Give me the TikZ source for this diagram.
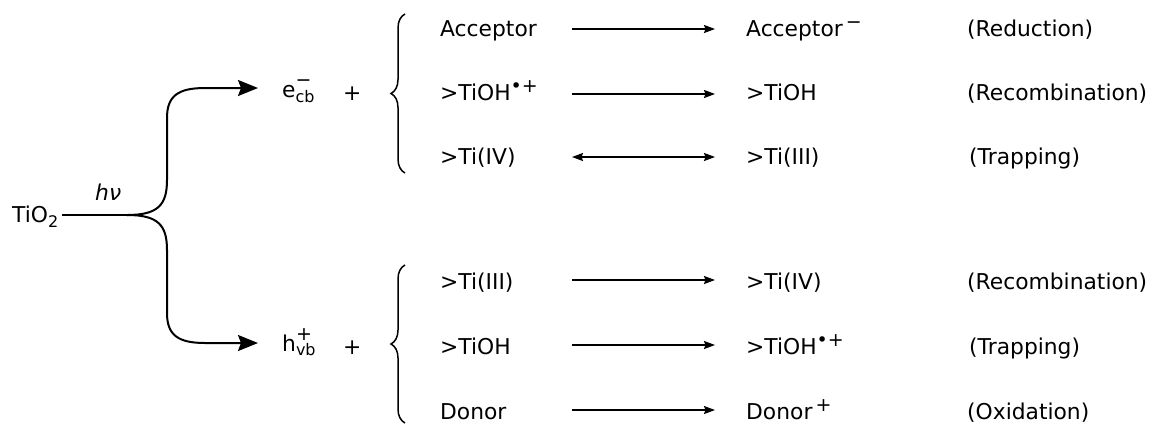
\documentclass[tikz,border=0pt]{standalone}
\usepackage{fontspec}
\setmainfont{DejaVu Sans}
\usetikzlibrary{arrows.meta,decorations.pathreplacing}
\newcommand\supsz{\fontsize{16}{16}\selectfont}
\newcommand\chgsz{\fontsize{19}{19}\selectfont}
\newcommand\sups[1]{\raisebox{8pt}{\chgsz #1}}
\begin{document}
\begin{tikzpicture}[x=1pt,y=-1pt,
  font=\fontsize{21.8}{24}\selectfont,
  txt/.style={anchor=base west, inner sep=0pt},
  branch/.style={line width=2pt, -{Stealth[length=20pt,width=16pt,inset=3pt]}},
  react/.style={line width=1.6pt, -{Stealth[length=11pt,width=8pt,inset=1.5pt]}},
  rev/.style={line width=1.6pt, {Stealth[length=11pt,width=8pt,inset=1.5pt]}-{Stealth[length=11pt,width=8pt,inset=1.5pt]}},
  bracebox/.style={line width=1.5pt, decorate, decoration={brace, amplitude=14pt}}]
\useasboundingbox (0,0) rectangle (1159,424);
% left part
\node[txt] (tio) at (12,222) {TiO\raisebox{-5pt}{\supsz 2}};
\node[txt] (hv) at (95,200) {\textit{hν}};
\node[txt] (e) at (282,97) {e\rlap{\raisebox{11pt}{\chgsz −}}\raisebox{-5pt}{\supsz cb}};
\node[txt] (h) at (282,351) {h\rlap{\raisebox{11pt}{\chgsz +}}\raisebox{-4pt}{\supsz vb}};
\node[txt] (pe) at (343,100) {+};
\node[txt] (ph) at (343,354) {+};
\coordinate (j) at (127,215);
\coordinate (et) at (258,88);
\coordinate (ht) at (258,343);
\draw[line width=2pt] (tio.east |- j) ++(4,0) -- (j);
\draw[branch] (j) .. controls (158,215) and (167,205) .. (167,180) -- (167,118)
  .. controls (167,96) and (178,88) .. (205,88) -- (et);
\draw[branch] (j) .. controls (158,215) and (167,225) .. (167,250) -- (167,313)
  .. controls (167,335) and (178,343) .. (205,343) -- (ht);
% braces
\draw[bracebox] (405,173) -- (405,14);
\draw[bracebox] (405,423) -- (405,265);
% column 1
\node[txt] (a1) at (440,36) {Acceptor};
\node[txt] (a2) at (440,100) {>TiOH\sups{•+}};
\node[txt] (a3) at (440,164) {>Ti(IV)};
\node[txt] (a4) at (440,289) {>Ti(III)};
\node[txt] (a5) at (440,354) {>TiOH};
\node[txt] (a6) at (440,419) {Donor};
% column 2
\node[txt] (b1) at (746,36) {Acceptor\sups{\,−}};
\node[txt] (b2) at (746,100) {>TiOH};
\node[txt] (b3) at (746,164) {>Ti(III)};
\node[txt] (b4) at (746,289) {>Ti(IV)};
\node[txt] (b5) at (746,354) {>TiOH\sups{•+}};
\node[txt] (b6) at (746,419) {Donor\sups{\,+}};
% column 3
\node[txt] (c1) at (967,36) {(Reduction)};
\node[txt] (c2) at (967,100) {(Recombination)};
\node[txt] (c3) at (969,164) {(Trapping)};
\node[txt] (c4) at (967,289) {(Recombination)};
\node[txt] (c5) at (969,354) {(Trapping)};
\node[txt] (c6) at (967,419) {(Oxidation)};
% reaction arrows
\foreach \i/\y in {1/29,2/94,3/157,4/280,5/345,6/410}{
  \coordinate (s\i) at (572,\y);
  \coordinate (t\i) at (715,\y);
}
\draw[react] (s1) -- (t1);
\draw[react] (s2) -- (t2);
\draw[rev] (s3) -- (t3);
\draw[react] (s4) -- (t4);
\draw[react] (s5) -- (t5);
\draw[react] (s6) -- (t6);
\end{tikzpicture}
\end{document}
